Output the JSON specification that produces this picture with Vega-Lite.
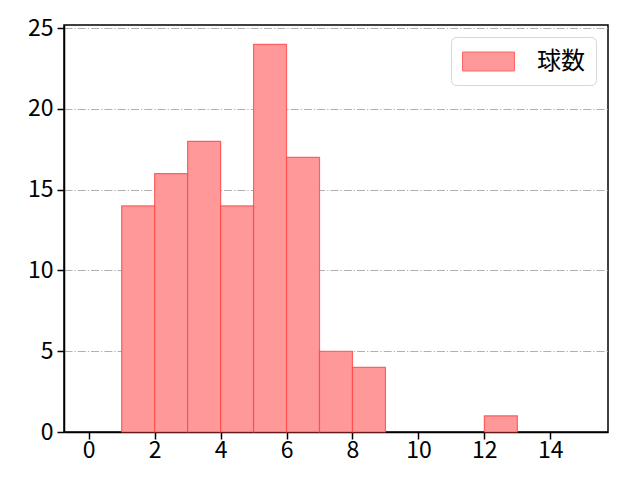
{
  "$schema": "https://vega.github.io/schema/vega-lite/v6.json",
  "autosize": {"type": "none"},
  "padding": {"left": 64, "top": 25, "right": 32, "bottom": 48},
  "width": 544,
  "height": 407,
  "config": {
    "view": {"stroke": "#000000", "strokeWidth": 1.5},
    "font": "Noto Sans CJK JP"
  },
  "data": {
    "values": [
      {"start": 1, "end": 2, "count": 14, "series": "球数"},
      {"start": 2, "end": 3, "count": 16, "series": "球数"},
      {"start": 3, "end": 4, "count": 18, "series": "球数"},
      {"start": 4, "end": 5, "count": 14, "series": "球数"},
      {"start": 5, "end": 6, "count": 24, "series": "球数"},
      {"start": 6, "end": 7, "count": 17, "series": "球数"},
      {"start": 7, "end": 8, "count": 5, "series": "球数"},
      {"start": 8, "end": 9, "count": 4, "series": "球数"},
      {"start": 12, "end": 13, "count": 1, "series": "球数"}
    ]
  },
  "mark": {"type": "rect", "fillOpacity": 1, "stroke": "#ff4444", "strokeOpacity": 0.8, "strokeWidth": 1.2},
  "encoding": {
    "x": {
      "field": "start", "type": "quantitative",
      "scale": {"domain": [-0.75, 15.75], "nice": false, "zero": false},
      "axis": {
        "title": null, "values": [0, 2, 4, 6, 8, 10, 12, 14], "grid": false,
        "domainColor": "#000000", "domainWidth": 1.5, "tickColor": "#000000", "tickSize": 7, "tickWidth": 1.5,
        "labelFontSize": 23, "labelColor": "#000000", "labelPadding": 0, "labelFont": "Noto Sans CJK JP"
      }
    },
    "x2": {"field": "end"},
    "y": {
      "field": "count", "type": "quantitative",
      "scale": {"domain": [0, 25.2], "nice": false},
      "axis": {
        "title": null, "values": [0, 5, 10, 15, 20, 25], "grid": true,
        "gridColor": "#b0b0b0", "gridDash": [8, 2, 1.3, 2], "gridWidth": 1,
        "domainColor": "#000000", "domainWidth": 1.5, "tickColor": "#000000", "tickSize": 7, "tickWidth": 1.5,
        "labelFontSize": 23, "labelColor": "#000000", "labelPadding": 4, "labelFont": "Noto Sans CJK JP"
      }
    },
    "y2": {"datum": 0},
    "color": {
      "field": "series", "type": "nominal",
      "scale": {"range": ["#ff9999"]},
      "legend": {
        "title": null, "orient": "top-right", "offset": 12,
        "symbolType": "M-1,-0.73H3V0.73H-1Z", "symbolSize": 676,
        "symbolStrokeColor": "#ff6666", "symbolStrokeWidth": 1, "symbolOpacity": 1,
        "labelFontSize": 24, "labelFont": "Noto Sans CJK JP", "labelColor": "#000000",
        "labelOffset": 48,
        "strokeColor": "#d6d6d6", "cornerRadius": 5, "padding": 11,
        "fillColor": "#ffffff"
      }
    }
  }
}
